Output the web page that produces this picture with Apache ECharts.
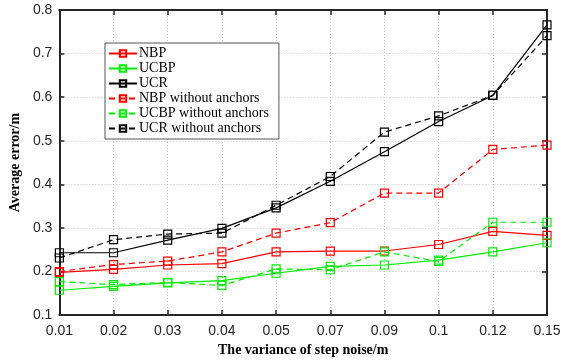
<!DOCTYPE html>
<html>
<head>
<meta charset="utf-8">
<script src="https://cdn.jsdelivr.net/npm/echarts@6/dist/echarts.min.js"></script>
<style>
  html, body { margin: 0; padding: 0; background: #fff; }
  #chart { width: 565px; height: 362px; }
</style>
</head>
<body>
<div id="chart"></div>
<script>
// step noise variance (x categories)
const noise = ['0.01', '0.02', '0.03', '0.04', '0.05', '0.07', '0.09', '0.1', '0.12', '0.15']

// average error
const nbp = [0.198, 0.205, 0.215, 0.218, 0.245, 0.247, 0.247, 0.262, 0.292, 0.283]
const ucbp = [0.157, 0.166, 0.174, 0.179, 0.196, 0.212, 0.215, 0.226, 0.245, 0.266]
const ucr = [0.243, 0.243, 0.272, 0.299, 0.346, 0.407, 0.475, 0.544, 0.604, 0.766]
const nbpNoAnchor = [0.200, 0.216, 0.224, 0.245, 0.288, 0.312, 0.380, 0.380, 0.480, 0.490]
const ucbpNoAnchor = [0.177, 0.170, 0.175, 0.168, 0.206, 0.204, 0.245, 0.223, 0.313, 0.313]
const ucrNoAnchor = [0.231, 0.273, 0.286, 0.288, 0.352, 0.418, 0.520, 0.557, 0.604, 0.741]

const chart = echarts.init(document.getElementById('chart'))

// 生成一条折线
const makeLine = (name, data, color, dashed) => ({
  name,
  type: 'line',
  data,
  symbol: 'rect',
  symbolSize: 8,
  itemStyle: { color: 'rgba(0,0,0,0)', borderColor: color, borderWidth: 1.2 },
  lineStyle: { color, width: 1.2, type: dashed ? [6, 4] : 'solid' },
  animation: false
})

const gridLine = { show: true, lineStyle: { color: '#c8c8c8', type: [1, 2], width: 1 } }
const axisText = { fontFamily: 'Liberation Sans', fontSize: 14, color: '#262626' }

const option = {
  backgroundColor: '#fff',
  grid: { left: 56, right: 18, top: 10, bottom: 42 },
  legend: {
    orient: 'vertical',
    left: 105,
    top: 43,
    itemWidth: 28,
    itemHeight: 8,
    itemGap: 0,
    padding: [3, 10, 3, 3],
    borderColor: '#555',
    borderWidth: 1,
    backgroundColor: '#fff',
    textStyle: { fontFamily: 'Liberation Serif', fontSize: 14, lineHeight: 15, color: '#000', padding: [0, 0, 0, -3] },
    data: ['NBP', 'UCBP', 'UCR', 'NBP without anchors', 'UCBP without anchors', 'UCR without anchors']
  },
  xAxis: [
    {
      type: 'category',
      data: noise,
      boundaryGap: false,
      name: 'The variance of step noise/m',
      nameLocation: 'middle',
      nameGap: 26,
      nameTextStyle: { fontFamily: 'Liberation Serif', fontWeight: 'bold', fontSize: 14, color: '#000' },
      axisLine: { lineStyle: { color: '#262626', width: 2 } },
      axisTick: { inside: true, length: 5, lineStyle: { color: '#262626', width: 1.5 } },
      axisLabel: Object.assign({ margin: 9 }, axisText),
      splitLine: gridLine
    },
    {
      type: 'category',
      data: noise,
      boundaryGap: false,
      position: 'top',
      axisLine: { lineStyle: { color: '#262626', width: 2 } },
      axisTick: { inside: true, length: 5, lineStyle: { color: '#262626', width: 1.5 } },
      axisLabel: { show: false }
    }
  ],
  yAxis: [
    {
      type: 'value',
      min: 0.1,
      max: 0.8,
      interval: 0.1,
      name: 'Average error/m',
      nameLocation: 'middle',
      nameGap: 36,
      nameTextStyle: { fontFamily: 'Liberation Serif', fontWeight: 'bold', fontSize: 14, color: '#000' },
      axisLine: { show: true, lineStyle: { color: '#262626', width: 2 } },
      axisTick: { show: true, inside: true, length: 5, lineStyle: { color: '#262626', width: 1.5 } },
      axisLabel: Object.assign({ margin: 7, formatter: v => v.toFixed(1) }, axisText),
      splitLine: gridLine
    },
    {
      type: 'value',
      min: 0.1,
      max: 0.8,
      interval: 0.1,
      position: 'right',
      axisLine: { show: true, lineStyle: { color: '#262626', width: 2 } },
      axisTick: { show: true, inside: true, length: 5, lineStyle: { color: '#262626', width: 1.5 } },
      axisLabel: { show: false },
      splitLine: { show: false }
    }
  ],
  series: [
    makeLine('NBP', nbp, '#ff0000', false),
    makeLine('UCBP', ucbp, '#00ee00', false),
    makeLine('UCR', ucr, '#000000', false),
    makeLine('NBP without anchors', nbpNoAnchor, '#ff0000', true),
    makeLine('UCBP without anchors', ucbpNoAnchor, '#00ee00', true),
    makeLine('UCR without anchors', ucrNoAnchor, '#000000', true)
  ]
}

chart.setOption(option)
</script>
</body>
</html>
